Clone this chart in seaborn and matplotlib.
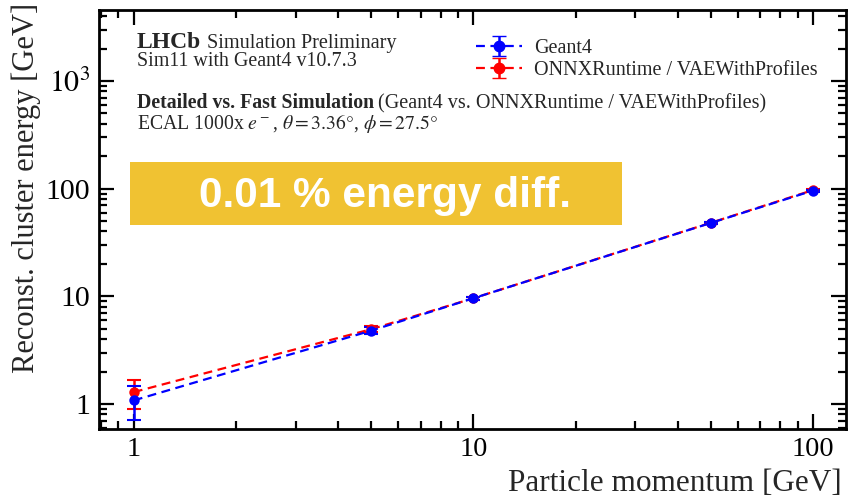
import numpy as np
import pandas as pd
import matplotlib
matplotlib.use("Agg")
import matplotlib.pyplot as plt
import seaborn as sns
from matplotlib.patches import Rectangle
from matplotlib.ticker import FixedLocator, FixedFormatter, LogLocator, NullFormatter

# ---- data ----
momentum = [1, 5, 10, 50, 100]
geant4_energy = [1.08, 4.8, 9.6, 48.0, 96.0]
geant4_err_lo = [0.37, 0.35, 0.3, 1.0, 2.0]
geant4_err_hi = [0.39, 0.35, 0.3, 1.0, 2.0]
vae_energy = [1.29, 4.95, 9.6, 48.2, 97.0]
vae_err_lo = [0.39, 0.3, 0.3, 1.0, 2.0]
vae_err_hi = [0.39, 0.3, 0.3, 1.0, 2.0]
series_names = ["Geant4", "ONNXRuntime / VAEWithProfiles"]
series_colors = ["#0000ff", "#ff0000"]
ytick_vals = [1, 10, 100, 1000]
ytick_labels = ["1", "10", "100", "$10^3$"]
xtick_vals = [1, 10, 100]
xtick_labels = ["1", "10", "100"]

sns.set_theme(style="ticks")
plt.rcParams["font.family"] = ["Liberation Serif", "DejaVu Serif"]
plt.rcParams["mathtext.fontset"] = "stix"

W, H = 850, 498
fig = plt.figure(figsize=(W / 100, H / 100), dpi=100)
ax = fig.add_axes([99 / W, 1 - 429 / H, (846 - 99) / W, (429 - 10) / H])

df = pd.DataFrame({
    "x": momentum * 2,
    "y": geant4_energy + vae_energy,
    "series": [series_names[0]] * len(momentum) + [series_names[1]] * len(momentum),
})

# draw red (fast sim) first so blue sits on top, as in the reference
for name, col, y, lo, hi in [
    (series_names[1], series_colors[1], vae_energy, vae_err_lo, vae_err_hi),
    (series_names[0], series_colors[0], geant4_energy, geant4_err_lo, geant4_err_hi),
]:
    ax.errorbar(momentum, y, yerr=[lo, hi], fmt="none", ecolor=col, elinewidth=1.8,
                capsize=5, capthick=1.5, zorder=2)

n_before = len(ax.get_lines())
sns.lineplot(data=df, x="x", y="y", hue="series",
             hue_order=[series_names[1], series_names[0]],
             palette={series_names[0]: series_colors[0], series_names[1]: series_colors[1]},
             marker="o", markersize=7.5, markeredgewidth=0,
             linewidth=1.6, legend=False, ax=ax, zorder=3)
for ln in ax.get_lines()[n_before:]:
    ln.set_linestyle((0, (4, 2.5)))

ax.set_xscale("log")
ax.set_yscale("log")
ax.set_xlim(0.79, 125)
ax.set_ylim(0.586, 4560)

ax.yaxis.set_major_locator(FixedLocator(ytick_vals))
ax.yaxis.set_major_formatter(FixedFormatter(ytick_labels))
ax.xaxis.set_major_locator(FixedLocator(xtick_vals))
ax.xaxis.set_major_formatter(FixedFormatter(xtick_labels))
ax.xaxis.set_minor_locator(LogLocator(base=10, subs=np.arange(2, 10), numticks=20))
ax.yaxis.set_minor_locator(LogLocator(base=10, subs=np.arange(2, 10), numticks=20))
ax.xaxis.set_minor_formatter(NullFormatter())
ax.yaxis.set_minor_formatter(NullFormatter())

ax.tick_params(which="both", direction="in", top=True, right=True, colors="black",
               width=1.6)
ax.tick_params(axis="x", which="major", labelsize=20.5, length=11, pad=6)
ax.tick_params(axis="y", which="major", labelsize=21.5, length=11, pad=6.5)
ax.tick_params(which="minor", length=5.5)
for s in ax.spines.values():
    s.set_linewidth(2)
    s.set_color("black")
ax.set_xlabel("")
ax.set_ylabel("")

fig.text(842 / W, 1 - 483 / H, "Particle momentum [GeV]", ha="right", va="center", fontsize=22.5)
fig.text(26 / W, 1 - 188 / H, "Reconst. cluster energy [GeV]", ha="center", va="center",
         rotation=90, fontsize=22)

# annotations
renderer = fig.canvas.get_renderer()
t1 = fig.text(137 / W, 1 - 48 / H, "LHCb", fontsize=17, fontweight="bold", va="baseline")
bb = t1.get_window_extent(renderer)
fig.text((bb.x1 + 6) / W, 1 - 48 / H, "Simulation Preliminary", fontsize=14.6, va="baseline")
fig.text(137 / W, 1 - 66 / H, "Sim11 with Geant4 v10.7.3", fontsize=14.4, va="baseline")
t2 = fig.text(137 / W, 1 - 108 / H, "Detailed vs. Fast Simulation", fontsize=14.2,
              fontweight="bold", va="baseline")
bb = t2.get_window_extent(renderer)
fig.text((bb.x1 + 4) / W, 1 - 108 / H, "(Geant4 vs. ONNXRuntime / VAEWithProfiles)",
         fontsize=14.5, va="baseline")
fig.text(137 / W, 1 - 129 / H,
         r"ECAL 1000x $e^-$, $\theta = 3.36°$, $\phi = 27.5°$", fontsize=14.2, va="baseline")

# legend
handles = []
for name, col in zip(series_names, series_colors):
    h = ax.errorbar([np.nan], [np.nan], yerr=[[np.nan], [np.nan]], fmt="o", color=col,
                    ls=(0, (4, 2.5)), lw=1.6, ms=7.5, elinewidth=1.8, capsize=5, label=name)
    handles.append(h)
leg = ax.legend(handles=handles, labels=series_names, loc="upper left",
                bbox_to_anchor=(466 / W, 1 - 29 / H), bbox_transform=fig.transFigure,
                frameon=False, fontsize=14.5, handlelength=2.3, handletextpad=0.6,
                labelspacing=0.12, borderpad=0)

# highlight box
fig.patches.append(Rectangle((130 / W, 1 - 225 / H), (622 - 130) / W, (225 - 162) / H,
                             transform=fig.transFigure, facecolor="#f0c232",
                             edgecolor="none", zorder=5))
fig.text(385 / W, 1 - 196 / H, "0.01 % energy diff.", ha="center", va="center",
         fontsize=30.5, fontweight="bold", color="white", family="Liberation Sans", zorder=6)

fig.savefig("out.png", dpi=100)
